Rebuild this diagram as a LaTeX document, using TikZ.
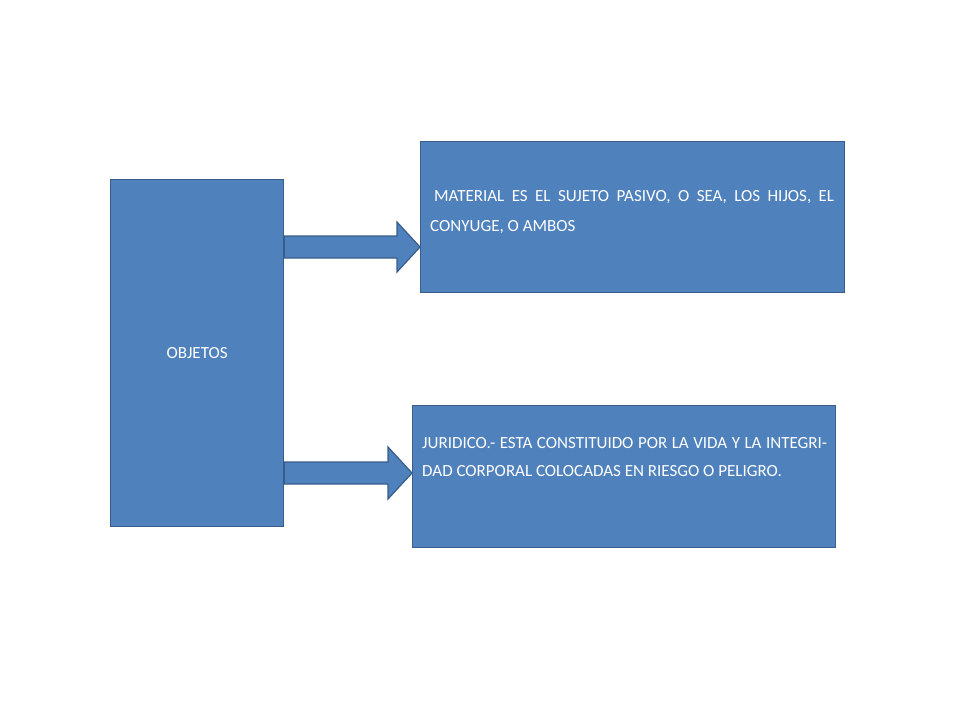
\documentclass[tikz,border=0pt]{standalone}
\usepackage{fontspec}
\setmainfont{Carlito}
\tikzset{
 box/.style={draw=blue!40!black!70, fill=myblue, line width=1.2pt, text=white, font=\fontsize{17}{29}\selectfont, inner sep=0pt},
 arr/.style={draw=myedge, fill=myblue, line width=1.2pt, line join=miter}
}
\definecolor{myblue}{HTML}{4F81BD}
\definecolor{myedge}{HTML}{385D8A}
\begin{document}
\begin{tikzpicture}[x=1pt,y=-1pt]
\useasboundingbox (0,0) rectangle (960,720);
\node[box, draw=myedge, minimum width=173, minimum height=347, anchor=north west] (obj) at (110,179) {OBJETOS};
\node[box, draw=myedge, minimum width=424, minimum height=151, anchor=north west] (mat) at (420,141) {};
\node[box, draw=myedge, minimum width=423, minimum height=142, anchor=north west] (jur) at (412,405) {};
\node[text=white, font=\fontsize{17}{30}\selectfont, text width=404, align=justify, anchor=north west, inner sep=0pt] (matt) at (430,190) {\hspace*{4pt}MATERIAL ES EL SUJETO PASIVO, O SEA, LOS HIJOS, EL CONYUGE, O AMBOS};
\node[text=white, font=\fontsize{17}{28.5}\selectfont, text width=405, align=justify, anchor=north west, inner sep=0pt] (jurt) at (422,437) {JURIDICO.- ESTA CONSTITUIDO POR LA VIDA Y LA INTEGRIDAD CORPORAL COLOCADAS EN RIESGO O PELIGRO.};
\draw[arr] (obj.east |- 0,236) -- (397,236) -- (397,222) -- (mat.west |- 0,247) -- (397,272) -- (397,258) -- (obj.east |- 0,258) -- cycle;
\draw[arr] (obj.east |- 0,462) -- (388,462) -- (388,447) -- (jur.west |- 0,473) -- (388,499) -- (388,484) -- (obj.east |- 0,484) -- cycle;
\end{tikzpicture}
\end{document}
